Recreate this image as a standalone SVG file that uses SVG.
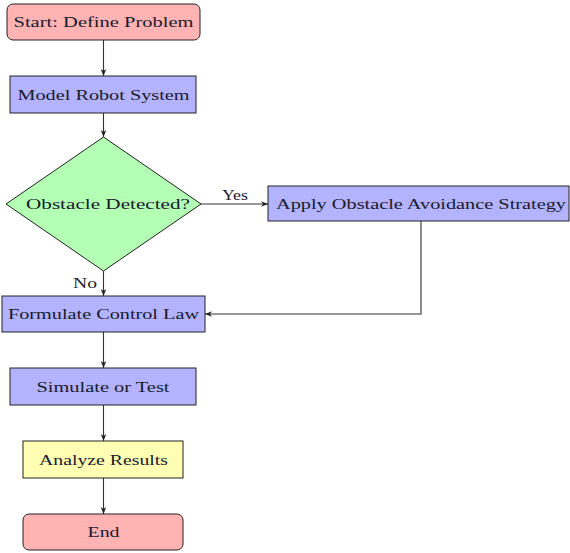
<svg xmlns="http://www.w3.org/2000/svg" width="570" height="553" viewBox="0 0 570 553">
<defs>
<marker id="ah" viewBox="0 0 10 10" refX="10" refY="5" markerWidth="7" markerHeight="7" markerUnits="userSpaceOnUse" orient="auto">
<path d="M0,1 L10,5 L0,9 L3,5 Z" fill="#222"/>
</marker>
<style>
text{font-size:15px;fill:#1a1a2e;text-anchor:middle;dominant-baseline:central}
.term{fill:#ffb3b3;stroke:#222;stroke-width:1}
.proc{fill:#b3b3ff;stroke:#222;stroke-width:1}
.dec{fill:#b3ffb3;stroke:#222;stroke-width:1}
.io{fill:#ffffb3;stroke:#222;stroke-width:1}
.edge{fill:none;stroke:#333;stroke-width:1.1;marker-end:url(#ah)}
</style>
</defs>
<rect width="570" height="553" fill="#fff"/>
<g font-family="'Liberation Serif', 'Times New Roman', 'DejaVu Serif', serif">
<g id="connectors">
<line class="edge" x1="103.5" y1="40" x2="103.5" y2="76"/>
<line class="edge" x1="103.5" y1="113" x2="103.5" y2="137"/>
<line class="edge" x1="201" y1="204" x2="268" y2="204"/>
<line class="edge" x1="103.5" y1="271" x2="103.5" y2="296"/>
<polyline class="edge" points="421,221 421,314 205,314"/>
<line class="edge" x1="103.5" y1="332" x2="103.5" y2="368"/>
<line class="edge" x1="103.5" y1="405" x2="103.5" y2="441"/>
<line class="edge" x1="103.5" y1="478" x2="103.5" y2="514"/>
<text x="235" y="195" textLength="26" lengthAdjust="spacingAndGlyphs">Yes</text>
<text x="85" y="283" textLength="24" lengthAdjust="spacingAndGlyphs">No</text>
</g>
<g id="start"><rect class="term" x="7" y="4" width="193" height="36" rx="6"/><text x="103.5" y="22" textLength="180" lengthAdjust="spacingAndGlyphs">Start: Define Problem</text></g>
<g id="model"><rect class="proc" x="10" y="76" width="186" height="37"/><text x="103.5" y="94.5" textLength="172" lengthAdjust="spacingAndGlyphs">Model Robot System</text></g>
<g id="obstacle"><polygon class="dec" points="103.5,137 201,204 103.5,271 6,204"/><text x="108" y="204" textLength="164" lengthAdjust="spacingAndGlyphs">Obstacle Detected?</text></g>
<g id="avoid"><rect class="proc" x="268" y="186" width="301" height="35"/><text x="421" y="203.5" textLength="290" lengthAdjust="spacingAndGlyphs">Apply Obstacle Avoidance Strategy</text></g>
<g id="control"><rect class="proc" x="2" y="296" width="203" height="36"/><text x="103.5" y="314" textLength="191" lengthAdjust="spacingAndGlyphs">Formulate Control Law</text></g>
<g id="simulate"><rect class="proc" x="10" y="368" width="186" height="37"/><text x="103" y="386.5" textLength="133" lengthAdjust="spacingAndGlyphs">Simulate or Test</text></g>
<g id="analyze"><rect class="io" x="23" y="441" width="160" height="37"/><text x="103.5" y="459.5" textLength="129" lengthAdjust="spacingAndGlyphs">Analyze Results</text></g>
<g id="end"><rect class="term" x="23" y="514" width="160" height="36" rx="6"/><text x="103.5" y="532" textLength="32" lengthAdjust="spacingAndGlyphs">End</text></g>
</g>
</svg>
